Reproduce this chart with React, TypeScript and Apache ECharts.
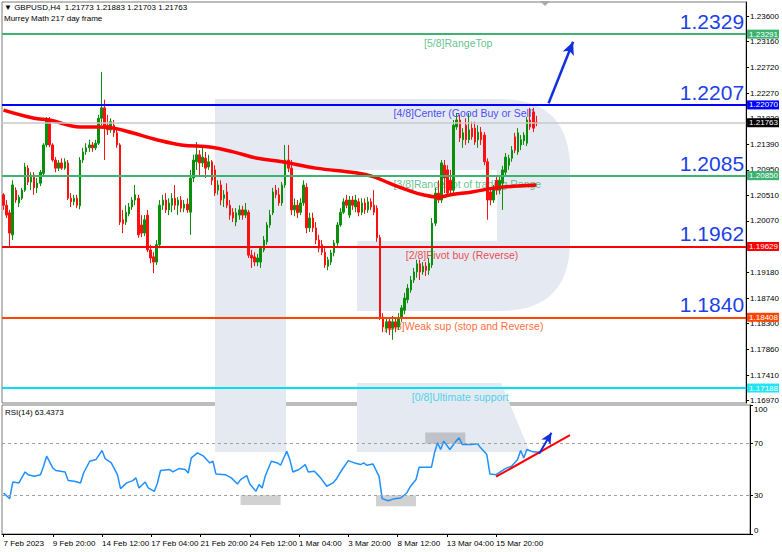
import React, { useEffect, useRef } from 'react';
import * as echarts from 'echarts';

const FONT = 'Liberation Sans, Arial, sans-serif';

// GBPUSD H4 bars: [open, close, low, high]
const candles: number[][] = [
  [1.2052, 1.2034, 1.2026, 1.2055], [1.2034, 1.2017, 1.2012, 1.2043], [1.2021, 1.1986, 1.1962, 1.2026], [1.1983, 1.2069, 1.1974, 1.2077],
  [1.2060, 1.2043, 1.2038, 1.2065], [1.2038, 1.2048, 1.2031, 1.2052], [1.2046, 1.2060, 1.2043, 1.2064], [1.2060, 1.2100, 1.2057, 1.2107],
  [1.2098, 1.2074, 1.2069, 1.2103], [1.2074, 1.2086, 1.2060, 1.2091], [1.2086, 1.2064, 1.2052, 1.2091], [1.2064, 1.2072, 1.2055, 1.2081],
  [1.2072, 1.2091, 1.2067, 1.2095], [1.2089, 1.2138, 1.2086, 1.2141], [1.2138, 1.2181, 1.2134, 1.2186], [1.2181, 1.2138, 1.2134, 1.2186],
  [1.2138, 1.2112, 1.2109, 1.2141], [1.2112, 1.2098, 1.2091, 1.2117], [1.2098, 1.2107, 1.2093, 1.2112], [1.2107, 1.2098, 1.2095, 1.2115],
  [1.2098, 1.2109, 1.2095, 1.2115], [1.2107, 1.2046, 1.2043, 1.2112], [1.2046, 1.2040, 1.2031, 1.2055], [1.2040, 1.2046, 1.2034, 1.2052],
  [1.2046, 1.2034, 1.2029, 1.2052], [1.2033, 1.2112, 1.2027, 1.2117], [1.2112, 1.2126, 1.2107, 1.2133], [1.2126, 1.2133, 1.2121, 1.2141],
  [1.2133, 1.2138, 1.2126, 1.2147], [1.2138, 1.2133, 1.2126, 1.2143], [1.2133, 1.2141, 1.2129, 1.2147], [1.2141, 1.2184, 1.2138, 1.2190],
  [1.2184, 1.2202, 1.2172, 1.2264], [1.2202, 1.2167, 1.2112, 1.2216], [1.2172, 1.2164, 1.2155, 1.2190], [1.2164, 1.2178, 1.2159, 1.2184],
  [1.2172, 1.2159, 1.2152, 1.2181], [1.2159, 1.2138, 1.2133, 1.2164], [1.2138, 1.2005, 1.2000, 1.2141], [1.2009, 1.2002, 1.1986, 1.2026],
  [1.2005, 1.2022, 1.2000, 1.2034], [1.2019, 1.2031, 1.2015, 1.2038], [1.2031, 1.2043, 1.2026, 1.2048], [1.2043, 1.2052, 1.2034, 1.2069],
  [1.2046, 1.1983, 1.1978, 1.2052], [1.2000, 1.1986, 1.1979, 1.2017], [1.1986, 1.2009, 1.1981, 1.2017], [1.2017, 1.1957, 1.1953, 1.2026],
  [1.1957, 1.1943, 1.1934, 1.1966], [1.1945, 1.1936, 1.1917, 1.1953], [1.1936, 1.1966, 1.1931, 1.1974], [1.1966, 1.2034, 1.1960, 1.2043],
  [1.2034, 1.2043, 1.2026, 1.2052], [1.2043, 1.2026, 1.2021, 1.2055], [1.2026, 1.2038, 1.2017, 1.2046], [1.2034, 1.2046, 1.2022, 1.2055],
  [1.2046, 1.2034, 1.2026, 1.2069], [1.2034, 1.2043, 1.2017, 1.2048], [1.2043, 1.2029, 1.2022, 1.2050], [1.2029, 1.2036, 1.2022, 1.2043],
  [1.2036, 1.2026, 1.2021, 1.2046], [1.2022, 1.2081, 1.1983, 1.2095], [1.2081, 1.2112, 1.2074, 1.2121], [1.2109, 1.2121, 1.2095, 1.2143],
  [1.2121, 1.2107, 1.2086, 1.2129], [1.2107, 1.2117, 1.2100, 1.2133], [1.2115, 1.2098, 1.2081, 1.2126], [1.2100, 1.2109, 1.2095, 1.2121],
  [1.2109, 1.2077, 1.2069, 1.2112], [1.2095, 1.2055, 1.2050, 1.2103], [1.2060, 1.2069, 1.2052, 1.2077], [1.2069, 1.2043, 1.2034, 1.2077],
  [1.2046, 1.2052, 1.2031, 1.2060], [1.2057, 1.2034, 1.2029, 1.2072], [1.2034, 1.2017, 1.2009, 1.2043], [1.2022, 1.2012, 1.2005, 1.2029],
  [1.2005, 1.2021, 1.1998, 1.2029], [1.2017, 1.2026, 1.2009, 1.2034], [1.2026, 1.2017, 1.2009, 1.2033], [1.2017, 1.2026, 1.2012, 1.2038],
  [1.2022, 1.1948, 1.1943, 1.2026], [1.1948, 1.1943, 1.1926, 1.1957], [1.1945, 1.1936, 1.1929, 1.1953], [1.1936, 1.1943, 1.1929, 1.1950],
  [1.1936, 1.1960, 1.1926, 1.1964], [1.1957, 1.1974, 1.1953, 1.1981], [1.1971, 1.2000, 1.1966, 1.2005], [1.2000, 1.2017, 1.1995, 1.2026],
  [1.2021, 1.2057, 1.2017, 1.2064], [1.2060, 1.2052, 1.2046, 1.2069], [1.2052, 1.2038, 1.2033, 1.2064], [1.2038, 1.2069, 1.2033, 1.2074],
  [1.2069, 1.2112, 1.2064, 1.2138], [1.2112, 1.2098, 1.2091, 1.2138], [1.2098, 1.2026, 1.2017, 1.2112], [1.2026, 1.2034, 1.2015, 1.2046],
  [1.2034, 1.2021, 1.2012, 1.2043], [1.2022, 1.2038, 1.2017, 1.2046], [1.2038, 1.2069, 1.2033, 1.2077], [1.2065, 1.1995, 1.1986, 1.2072],
  [1.1995, 1.2012, 1.1988, 1.2021], [1.2012, 1.1995, 1.1988, 1.2021], [1.1995, 1.1974, 1.1967, 1.2005], [1.1974, 1.1960, 1.1953, 1.1983],
  [1.1966, 1.1953, 1.1948, 1.1974], [1.1953, 1.1931, 1.1926, 1.1960], [1.1929, 1.1940, 1.1922, 1.1945], [1.1936, 1.1952, 1.1931, 1.1957],
  [1.1952, 1.1969, 1.1946, 1.1974], [1.1969, 1.2000, 1.1964, 1.2005], [1.2000, 1.2022, 1.1997, 1.2029], [1.2022, 1.2040, 1.2019, 1.2046],
  [1.2043, 1.2034, 1.2029, 1.2052], [1.2017, 1.2043, 1.2012, 1.2050], [1.2043, 1.2034, 1.2026, 1.2050], [1.2031, 1.2043, 1.2022, 1.2052],
  [1.2040, 1.2022, 1.2015, 1.2046], [1.2022, 1.2038, 1.2017, 1.2046], [1.2038, 1.2026, 1.2019, 1.2046], [1.2026, 1.2040, 1.2021, 1.2048],
  [1.2040, 1.2031, 1.2026, 1.2046], [1.2034, 1.2022, 1.2017, 1.2060], [1.2029, 1.1978, 1.1971, 1.2034], [1.1978, 1.1841, 1.1836, 1.1983],
  [1.1841, 1.1824, 1.1815, 1.1848], [1.1822, 1.1833, 1.1814, 1.1839], [1.1834, 1.1822, 1.1810, 1.1841], [1.1822, 1.1833, 1.1802, 1.1843],
  [1.1833, 1.1824, 1.1815, 1.1839], [1.1824, 1.1839, 1.1819, 1.1848], [1.1839, 1.1857, 1.1833, 1.1862], [1.1853, 1.1874, 1.1846, 1.1883],
  [1.1871, 1.1891, 1.1865, 1.1898], [1.1888, 1.1905, 1.1883, 1.1912], [1.1905, 1.1919, 1.1900, 1.1926], [1.1919, 1.1933, 1.1909, 1.1940],
  [1.1933, 1.1919, 1.1905, 1.1940], [1.1919, 1.1929, 1.1914, 1.1936], [1.1929, 1.1922, 1.1912, 1.1936], [1.1922, 1.1934, 1.1914, 1.1943],
  [1.1931, 1.2003, 1.1926, 1.2012], [1.2003, 1.2055, 1.1998, 1.2064], [1.2055, 1.2043, 1.2038, 1.2077], [1.2043, 1.2107, 1.2038, 1.2112],
  [1.2103, 1.2081, 1.2055, 1.2112], [1.2095, 1.2055, 1.2050, 1.2103], [1.2077, 1.2060, 1.2052, 1.2095], [1.2060, 1.2172, 1.2055, 1.2181],
  [1.2169, 1.2181, 1.2164, 1.2193], [1.2181, 1.2150, 1.2143, 1.2190], [1.2147, 1.2159, 1.2133, 1.2167], [1.2172, 1.2147, 1.2138, 1.2184],
  [1.2147, 1.2164, 1.2141, 1.2193], [1.2167, 1.2152, 1.2147, 1.2178], [1.2167, 1.2143, 1.2138, 1.2178], [1.2147, 1.2160, 1.2133, 1.2172],
  [1.2160, 1.2147, 1.2138, 1.2169], [1.2155, 1.2109, 1.2103, 1.2160], [1.2109, 1.2043, 1.2009, 1.2115], [1.2057, 1.2043, 1.2034, 1.2064],
  [1.2043, 1.2064, 1.2038, 1.2069], [1.2077, 1.2060, 1.2052, 1.2086], [1.2060, 1.2077, 1.2053, 1.2084], [1.2072, 1.2095, 1.2026, 1.2102],
  [1.2091, 1.2117, 1.2086, 1.2124], [1.2103, 1.2115, 1.2095, 1.2121], [1.2115, 1.2129, 1.2109, 1.2136], [1.2152, 1.2129, 1.2124, 1.2159],
  [1.2126, 1.2159, 1.2121, 1.2167], [1.2138, 1.2147, 1.2129, 1.2155], [1.2145, 1.2155, 1.2138, 1.2160], [1.2141, 1.2181, 1.2136, 1.2186],
  [1.2181, 1.2169, 1.2164, 1.2202], [1.2195, 1.2167, 1.2160, 1.2202], [1.21773, 1.21763, 1.21703, 1.21883],
];

// Slow moving average, [bar index, price]
const maPoints: number[][] = [
  [0, 1.2198], [10, 1.2184], [15, 1.2181], [25, 1.2169], [31, 1.2169], [36, 1.2167], [42, 1.2159], [50, 1.2147],
  [58, 1.2138], [68, 1.2134], [75, 1.2126], [83, 1.2115], [91, 1.2109], [102, 1.2098], [115, 1.2090], [121, 1.2083],
  [126, 1.2072], [132, 1.2060], [137, 1.2052], [142, 1.2048], [146, 1.2052], [153, 1.2057], [161, 1.2064], [174, 1.2069],
];

// RSI(14), [bar index, value]
const rsiPoints: number[][] = [
  [0, 31.8], [2, 27.4], [3, 40.3], [5, 39.6], [7, 48.1], [8, 46], [10, 44.7], [12, 46], [13, 52.5], [14, 60.3],
  [16, 51.2], [17, 49.2], [20, 48.1], [21, 41.4], [23, 40.9], [25, 39.6], [26, 47.3], [28, 56.4], [30, 57.7], [32, 64.7],
  [33, 58.5], [35, 55.1], [37, 46], [38, 35.2], [40, 39.6], [42, 41.4], [43, 43.5], [44, 35.7], [46, 40.3], [47, 35.7],
  [49, 33.1], [50, 39.6], [51, 49.2], [54, 50], [55, 48.1], [57, 50.7], [59, 50], [60, 47.3], [61, 59], [63, 62.9],
  [65, 60.3], [67, 55.1], [68, 56.4], [69, 46.6], [72, 46], [74, 43.5], [76, 38.8], [77, 42.2], [79, 45.3], [80, 38.8],
  [82, 33.1], [83, 38.3], [84, 35.7], [85, 44.7], [87, 56.4], [89, 55.1], [90, 53.3], [92, 64.2], [93, 57.7], [94, 48.1],
  [96, 50], [98, 53.8], [99, 48.1], [101, 48.6], [103, 43.5], [105, 37], [107, 39.6], [108, 42.2], [110, 50], [112, 56.9],
  [114, 55.1], [116, 53.8], [117, 55.1], [118, 53.3], [120, 54.3], [122, 44.7], [123, 27.4], [125, 25.8], [127, 27.4], [129, 27.9],
  [131, 31.8], [132, 36.2], [134, 42.2], [135, 51.7], [137, 51.7], [139, 51.7], [140, 62.9], [141, 70.7], [142, 65.5], [143, 72],
  [145, 65.5], [147, 72], [148, 74.6], [149, 69.4], [152, 69.4], [154, 70], [155, 66.8], [157, 61.6], [158, 46.6], [160, 46],
  [162, 49.2], [163, 50.7], [165, 52.5], [166, 55.1], [167, 57.7], [168, 64.7], [169, 59], [170, 65.5], [172, 63.7], [174, 63.4373],
];

// Murrey Math levels
const levelNames = [
  '[5/8]RangeTop',
  '[4/8]Center (Good Buy or Sell)',
  '[3/8]RangeBot of trading Range',
  '[2/8]Pivot buy (Reverse)',
  '[1/8]Weak sup (stop and Reverse)',
  '[0/8]Ultimate support',
];
const levelPrices = [1.23291, 1.2207, 1.2085, 1.19629, 1.18408, 1.17188];
const levelBigLabels = ['1.2329', '1.2207', '1.2085', '1.1962', '1.1840', ''];
const levelColors = ['#3cb371', '#0000ff', '#3cb371', '#ff0000', '#ff4500', '#00e0f0'];
const levelTextColors = ['#3cb371', '#2020ff', '#3cb371', '#ee2020', '#ff4500', '#22cce8'];
const levelBadgeColors = ['#3cb371', '#0000ff', '#3cb371', '#ff0000', '#ff4500', '#22e4f4'];
const noteAnchors = [138, 128, 128, 132, 125, 134];

const lastPrice = 1.21763;
const header = '\u25BC GBPUSD,H4  1.21773 1.21883 1.21703 1.21763';
const indicatorName = 'Murrey Math 217 day frame';
const rsiTitle = 'RSI(14) 63.4373';

const priceTicks = [1.1697, 1.1741, 1.1786, 1.183, 1.1874, 1.1918, 1.1963, 1.2007, 1.2051, 1.2095, 1.2139, 1.2183, 1.2227, 1.2272, 1.2316, 1.236];
const rsiTicks = [0, 30, 70, 100];
const timeTicks = ['7 Feb 2023', '9 Feb 20:00', '14 Feb 12:00', '17 Feb 04:00', '21 Feb 20:00', '24 Feb 12:00', '1 Mar 04:00', '3 Mar 20:00', '8 Mar 12:00', '13 Mar 04:00', '15 Mar 20:00'];
const TICK_STEP = 16;
const SLOTS = 243;

// trend arrows: [[bar, value], [bar, value]]
const priceArrow = [[178, 1.221], [186, 1.2316]];
const rsiArrow = [[174, 62.2], [178, 78.5]];
const rsiTrend = [[160, 44.4], [184, 76.7]];
// highlighted RSI zones: [[barFrom, valueFrom], [barTo, valueTo]]
const rsiZones = [
  [[137, 70], [150, 78.7]],
  [[77, 30], [90, 22.5]],
  [[121, 30], [134, 21.5]],
];

const LOGO_D =
  'M215 99 L500 99 Q570 99 570 169 L570 241 Q570 311 500 311 L357 311 L357 241 L497 241 L497 170 L286 170 L286 452 L215 452 Z ' +
  'M357 383 L501 383 L530 452 L357 452 Z';
echarts.graphic.registerShape('logo', echarts.graphic.extendPath(LOGO_D, {}));

function barTimes(n: number): string[] {
  const out: string[] = [];
  let t = Date.UTC(2023, 1, 7, 4);
  while (out.length < n) {
    const d = new Date(t);
    const wd = d.getUTCDay();
    if (wd !== 0 && wd !== 6) out.push(d.toISOString().slice(0, 16));
    t += 4 * 3600 * 1000;
  }
  return out;
}

export default function App() {
  const ref = useRef<HTMLDivElement>(null);

  useEffect(() => {
    if (!ref.current) return;
    const chart = echarts.init(ref.current, undefined, { renderer: 'svg' });
    const times = barTimes(candles.length);
    const cats = Array.from({ length: SLOTS }, (_, i) => (i < times.length ? times[i] : ' ' + i));
    const showTick = (i: number) => i % TICK_STEP === 0 && i / TICK_STEP < timeTicks.length;

    const levelLines = levelPrices.map((p, i) => ({
      yAxis: p,
      lineStyle: { color: levelColors[i], width: 2, type: 'solid' },
      label: levelBigLabels[i]
        ? { show: true, position: 'insideEndTop', formatter: levelBigLabels[i], color: '#1c3fe6', fontSize: 21, fontFamily: FONT, distance: 2 }
        : { show: false },
    }));

    const badgeLines = levelPrices
      .map((p, i) => ({ p, bg: levelBadgeColors[i], line: levelColors[i] }))
      .concat([{ p: lastPrice, bg: '#000', line: '#c8c8c8' }])
      .map((b) => ({
        yAxis: b.p,
        lineStyle: { color: b.line, width: b.bg === '#000' ? 1.5 : 2, type: 'solid' },
        label: {
          show: true, position: 'end', distance: 1, formatter: b.p.toFixed(5), color: '#fff',
          backgroundColor: b.bg, padding: [1, 1, 0, 2], fontSize: 8, fontFamily: FONT,
        },
      }));

    const option: any = {
      animation: false,
      backgroundColor: '#ffffff',
      textStyle: { fontFamily: FONT },
      grid: [
        { left: 2, right: 32, top: 2, height: 401, show: true, borderColor: '#7a7a7a', borderWidth: 1 },
        { left: 2, right: 32, top: 405, height: 129, show: true, borderColor: '#7a7a7a', borderWidth: 1 },
      ],
      xAxis: [
        {
          type: 'category', gridIndex: 0, data: cats,
          axisLine: { show: false }, axisTick: { show: false }, axisLabel: { show: false }, splitLine: { show: false },
        },
        {
          type: 'category', gridIndex: 1, data: cats,
          axisLine: { show: true, lineStyle: { color: '#000' } },
          axisTick: { show: true, length: 3, interval: showTick, alignWithLabel: true, lineStyle: { color: '#000' } },
          axisLabel: {
            interval: showTick, align: 'left', fontSize: 8, color: '#000', margin: 5, fontFamily: FONT,
            formatter: (_v: string, i: number) => timeTicks[i / TICK_STEP] || '',
          },
          splitLine: { show: false },
        },
      ],
      yAxis: [
        {
          type: 'value', gridIndex: 0, position: 'right', min: 1.1693, max: 1.23845,
          axisLine: { show: true, lineStyle: { color: '#000' } },
          axisTick: { show: true, length: 3, customValues: priceTicks, lineStyle: { color: '#000' } },
          axisLabel: { customValues: priceTicks, formatter: (v: number) => v.toFixed(5), fontSize: 8, color: '#000', margin: 4, fontFamily: FONT },
          splitLine: { show: false },
        },
        {
          type: 'value', gridIndex: 1, position: 'right', min: 0, max: 100,
          axisLine: { show: true, lineStyle: { color: '#000' } },
          axisTick: { show: true, length: 3, customValues: rsiTicks, lineStyle: { color: '#000' } },
          axisLabel: {
            customValues: rsiTicks, fontSize: 8, color: '#000', margin: 4, fontFamily: FONT,
            verticalAlignMinLabel: 'bottom', verticalAlignMaxLabel: 'top',
          },
          splitLine: { show: false },
        },
      ],
      graphic: {
        elements: [
          { type: 'logo', x: 0, y: 0, z: 0, silent: true, style: { fill: '#e4e9f2' } },
          { type: 'text', x: 4, y: 3, z: 10, style: { text: header, fontSize: 8, fontFamily: FONT, fill: '#000' } },
          { type: 'text', x: 4, y: 14, z: 10, style: { text: indicatorName, fontSize: 8, fontFamily: FONT, fill: '#000' } },
          { type: 'text', x: 5, y: 408, z: 10, style: { text: rsiTitle, fontSize: 8, fontFamily: FONT, fill: '#000' } },
          { type: 'polygon', z: 10, silent: true, shape: { points: [[540, 1], [550, 1], [545, 6]] }, style: { fill: '#a8a8a8' } },
        ],
      },
      series: [
        {
          name: 'Murrey levels', type: 'scatter', xAxisIndex: 0, yAxisIndex: 0, z: 1, symbolSize: 0, silent: true,
          data: levelNames.map((n, i) => ({
            value: [noteAnchors[i], levelPrices[i]],
            label: {
              show: true, position: 'right', distance: 0, offset: [-2, 8.5], formatter: n,
              color: levelTextColors[i], fontSize: 10.5, fontFamily: FONT,
            },
          })),
        },
        {
          name: 'GBPUSD,H4', type: 'candlestick', xAxisIndex: 0, yAxisIndex: 0, z: 3, barWidth: 2,
          data: candles,
          itemStyle: { color: '#0a8f0a', color0: '#ff1010', borderColor: '#0a8f0a', borderColor0: '#ff1010', borderWidth: 1 },
          markLine: {
            silent: true, symbol: ['none', 'none'], animation: false, precision: 5,
            data: [
              ...levelLines,
              [
                { coord: priceArrow[0], symbol: 'none', lineStyle: { color: '#1030e0', width: 2.5, type: 'solid' }, label: { show: false } },
                { coord: priceArrow[1], symbol: 'arrow', symbolSize: [9, 13] },
              ],
            ],
          },
        },
        {
          name: 'MA', type: 'line', xAxisIndex: 0, yAxisIndex: 0, z: 4, data: maPoints, smooth: 0.4, showSymbol: false,
          lineStyle: { color: '#ff0000', width: 3.5 },
          markLine: { silent: true, symbol: ['none', 'none'], animation: false, precision: 5, data: badgeLines },
        },
        {
          name: 'RSI(14)', type: 'line', xAxisIndex: 1, yAxisIndex: 1, z: 4, data: rsiPoints, showSymbol: false,
          lineStyle: { color: '#1e90ff', width: 1.5 },
          markArea: {
            silent: true,
            itemStyle: { color: 'rgba(120,120,120,0.34)' },
            data: rsiZones.map((z) => [{ coord: z[0] }, { coord: z[1] }]),
          },
          markLine: {
            silent: true, symbol: ['none', 'none'], animation: false, precision: 4,
            data: [
              { yAxis: 70, lineStyle: { color: '#a0a0a0', width: 1, type: [3, 3] }, label: { show: false } },
              { yAxis: 30, lineStyle: { color: '#a0a0a0', width: 1, type: [3, 3] }, label: { show: false } },
              [
                { coord: rsiTrend[0], lineStyle: { color: '#ff0000', width: 2, type: 'solid' }, label: { show: false } },
                { coord: rsiTrend[1] },
              ],
              [
                { coord: rsiArrow[0], symbol: 'none', lineStyle: { color: '#1030e0', width: 2, type: 'solid' }, label: { show: false } },
                { coord: rsiArrow[1], symbol: 'arrow', symbolSize: [8, 11] },
              ],
            ],
          },
        },
      ],
    };

    chart.setOption(option);
    return () => chart.dispose();
  }, []);

  return <div ref={ref} style={{ position: 'absolute', left: 0, top: 0, width: 782, height: 552 }} />;
}
